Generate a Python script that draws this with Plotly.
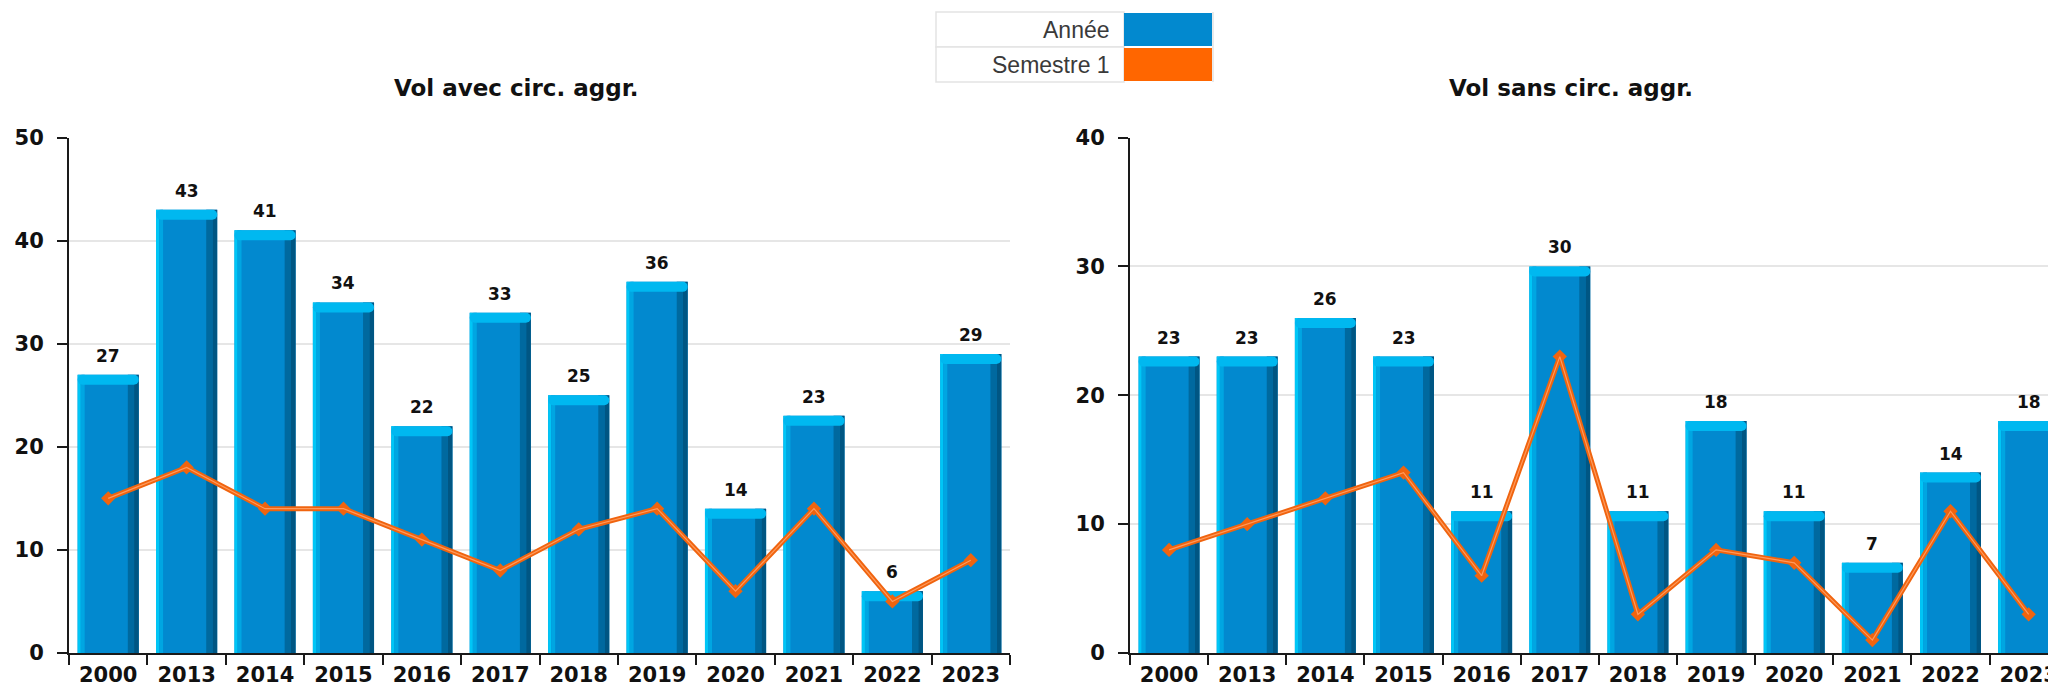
import plotly.graph_objects as go

# ---------------- data ----------------
categories = ["2000", "2013", "2014", "2015", "2016", "2017",
              "2018", "2019", "2020", "2021", "2022", "2023"]
avec_annee = [27, 43, 41, 34, 22, 33, 25, 36, 14, 23, 6, 29]
avec_sem1 = [15, 18, 14, 14, 11, 8, 12, 14, 6, 14, 5, 9]
sans_annee = [23, 23, 26, 23, 11, 30, 11, 18, 11, 7, 14, 18]
sans_sem1 = [8, 10, 12, 14, 6, 23, 3, 8, 7, 1, 11, 3]
chart_titles = ["Vol avec circ. aggr.", "Vol sans circ. aggr."]
legend_labels = ["Année", "Semestre 1"]
y_max = [50, 40]

# ---------------- styling ----------------
# The page body has an 8px margin, so the figure is 8px smaller and all
# screen positions below are converted with that offset.
OFF = 8
W, H = 2056 - OFF, 688 - OFF
BLUE = "#0289cf"
BLUE_LIGHT = "#00c6f6"
BLUE_MID = "#00a6e2"
BLUE_DARK = "#00699f"
BLUE_DARKER = "#005683"
CAP = "#00b8f0"
ORANGE = "#f0640f"
FONT = "DejaVu Sans"


def px(x):
    return (x - OFF) / W


def py(y):
    return 1 - (y - OFF) / H


plot_top, plot_bottom = 137.5, 653
x_domains = [[px(69), px(1010)], [px(1130), 1.0]]
x_ranges = [[-0.5, 11.5], [-0.5, 11.35]]

fig = go.Figure()

BW = 0.78
half = BW / 2
for k, (annee, sem1) in enumerate([(avec_annee, avec_sem1), (sans_annee, sans_sem1)]):
    xa = "x" if k == 0 else "x2"
    ya = "y" if k == 0 else "y2"
    unit_per_px = y_max[k] / (plot_bottom - plot_top)
    cap = 10 * unit_per_px
    common = dict(x=categories, xaxis=xa, yaxis=ya, showlegend=False,
                  hoverinfo="skip", marker_line_width=0)
    # main body
    fig.add_trace(go.Bar(y=annee, width=BW, offset=-half,
                         marker_color=BLUE, **common))
    # left highlight strips
    fig.add_trace(go.Bar(y=annee, width=0.04, offset=-half,
                         marker_color=BLUE_LIGHT, **common))
    fig.add_trace(go.Bar(y=annee, width=0.05, offset=-half + 0.04,
                         marker_color=BLUE_MID, **common))
    # right shading strips
    fig.add_trace(go.Bar(y=annee, width=0.08, offset=half - 0.14,
                         marker_color=BLUE_DARK, **common))
    fig.add_trace(go.Bar(y=annee, width=0.06, offset=half - 0.06,
                         marker_color=BLUE_DARKER, **common))
    # top cap
    fig.add_trace(go.Bar(y=[cap] * len(annee), base=[v - cap for v in annee],
                         width=BW, offset=-half, marker_color=CAP,
                         marker_cornerradius=7, **common))
    # Semestre 1 line
    fig.add_trace(go.Scatter(x=categories, y=sem1, xaxis=xa, yaxis=ya,
                             mode="lines+markers", showlegend=False,
                             hoverinfo="skip",
                             line=dict(color=ORANGE, width=5),
                             marker=dict(symbol="diamond", size=11, color=ORANGE)))
    fig.add_trace(go.Scatter(x=categories, y=sem1, xaxis=xa, yaxis=ya,
                             mode="lines", showlegend=False, hoverinfo="skip",
                             line=dict(color="#ff9a5c", width=1.2)))
    # value labels
    for i, v in enumerate(annee):
        fig.add_annotation(x=i, y=v, xref=xa, yref=ya, text=str(v),
                           showarrow=False, yanchor="bottom", yshift=7,
                           font=dict(family=FONT, size=17, color="#111111",
                                     weight="bold"))

axis_common = dict(showline=True, linecolor="#1a1a1a", linewidth=2,
                   ticks="outside", ticklen=10, tickwidth=2, tickcolor="#1a1a1a",
                   automargin=False,
                   tickfont=dict(family=FONT, size=21, color="#111111", weight="bold"))

fig.update_layout(
    width=W, height=H,
    margin=dict(l=0, r=0, t=0, b=0, autoexpand=False),
    paper_bgcolor="white", plot_bgcolor="white",
    barmode="overlay",
    xaxis=dict(domain=x_domains[0], range=x_ranges[0], type="category",
               tickson="boundaries", showgrid=False, anchor="y",
               ticklabelstandoff=2, **axis_common),
    xaxis2=dict(domain=x_domains[1], range=x_ranges[1], type="category",
                tickson="boundaries", showgrid=False, anchor="y2",
                ticklabelstandoff=2, **axis_common),
    yaxis=dict(domain=[py(plot_bottom), py(plot_top)], range=[0, y_max[0]],
               dtick=10, showgrid=True, gridcolor="#e6e6e6", gridwidth=2,
               zeroline=False, anchor="x", ticklabelstandoff=9, **axis_common),
    yaxis2=dict(domain=[py(plot_bottom), py(plot_top)], range=[0, y_max[1]],
                dtick=10, showgrid=True, gridcolor="#e6e6e6", gridwidth=2,
                zeroline=False, anchor="x2", ticklabelstandoff=9, **axis_common),
)

# chart titles
for cx, t in zip([516, 1571], chart_titles):
    fig.add_annotation(x=px(cx), y=py(88), xref="paper", yref="paper",
                       text=t, showarrow=False, xanchor="center", yanchor="middle",
                       font=dict(family=FONT, size=23, color="#111111", weight="bold"))

# legend table
lx0, lx1, sx0, sx1 = 936, 1213, 1124, 1212
rows = [(12, 47), (47, 82)]
swatch_colors = [BLUE, "#ff6600"]
for (r0, r1), lab, col in zip(rows, legend_labels, swatch_colors):
    fig.add_shape(type="rect", xref="paper", yref="paper",
                  x0=px(lx0), x1=px(sx0), y0=py(r1), y1=py(r0),
                  line=dict(color="#e3e3e3", width=1.5), fillcolor="white")
    fig.add_shape(type="rect", xref="paper", yref="paper",
                  x0=px(sx0), x1=px(sx1), y0=py(r1 - 1), y1=py(r0 + 1),
                  line=dict(width=0), fillcolor=col)
    fig.add_annotation(x=px(1112), y=py((r0 + r1) / 2), xref="paper", yref="paper",
                       text=lab, showarrow=False, xanchor="right", yanchor="middle",
                       font=dict(family="Liberation Sans", size=23, color="#3a3a3a"))
fig.add_shape(type="line", xref="paper", yref="paper",
              x0=px(sx1 + 1), x1=px(sx1 + 1), y0=py(82), y1=py(12),
              line=dict(color="#e3e3e3", width=1.5))

fig.write_html("out.html")
